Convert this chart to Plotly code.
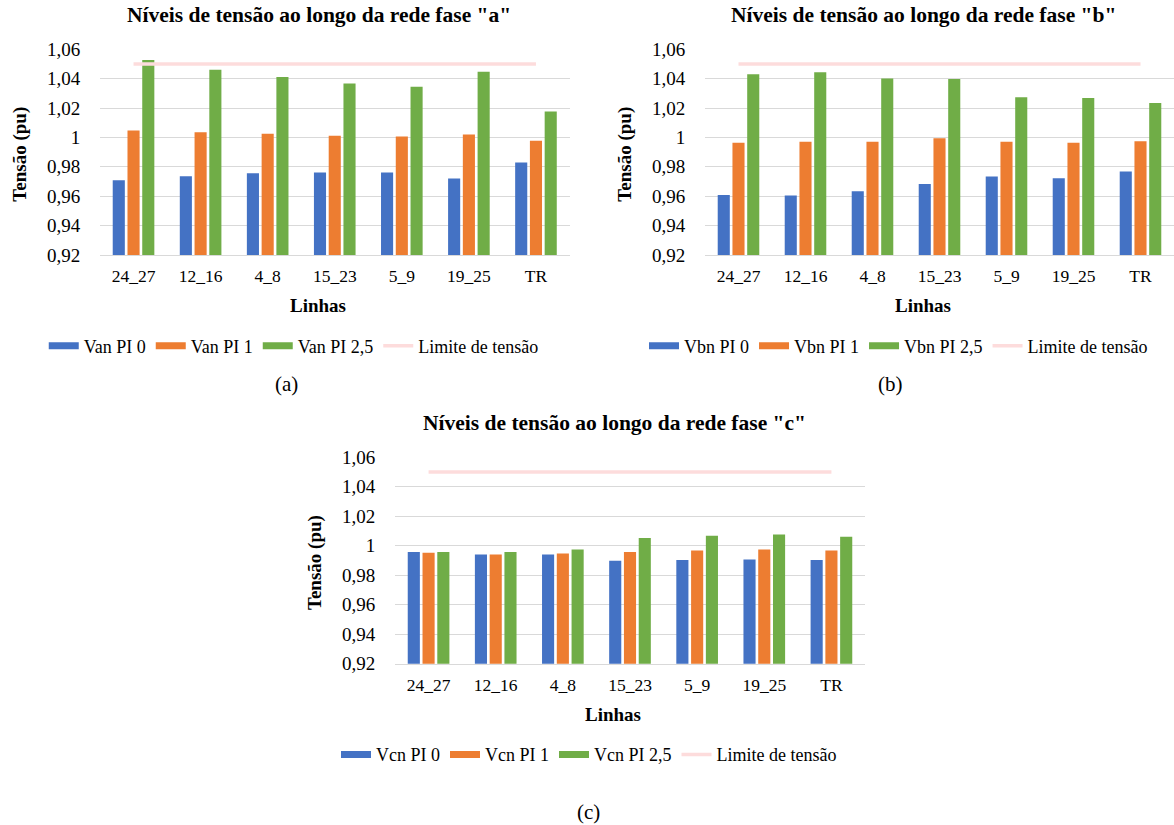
import plotly.graph_objects as go

# ---------------- data ----------------
categorias = ["24_27", "12_16", "4_8", "15_23", "5_9", "19_25", "TR"]

van_pi0 = [0.9709, 0.9736, 0.9757, 0.9761, 0.9761, 0.9720, 0.9830]
van_pi1 = [1.0048, 1.0036, 1.0025, 1.0011, 1.0007, 1.0020, 0.9977]
van_pi25 = [1.0527, 1.0461, 1.0411, 1.0368, 1.0345, 1.0448, 1.0177]

vbn_pi0 = [0.9609, 0.9605, 0.9634, 0.9684, 0.9734, 0.9723, 0.9768]
vbn_pi1 = [0.9964, 0.9970, 0.9970, 0.9995, 0.9970, 0.9964, 0.9975]
vbn_pi25 = [1.0430, 1.0443, 1.0402, 1.0398, 1.0273, 1.0268, 1.0234]

vcn_pi0 = [0.9957, 0.9941, 0.9941, 0.9898, 0.9903, 0.9907, 0.9903]
vcn_pi1 = [0.9952, 0.9941, 0.9948, 0.9957, 0.9968, 0.9975, 0.9968]
vcn_pi25 = [0.9957, 0.9957, 0.9975, 1.0052, 1.0068, 1.0077, 1.0061]

limite = [1.05, 1.05, 1.05, 1.05, 1.05, 1.05, 1.05]

y_tickvals = [0.92, 0.94, 0.96, 0.98, 1.00, 1.02, 1.04, 1.06]
y_ticktext = ["0,92", "0,94", "0,96", "0,98", "1", "1,02", "1,04", "1,06"]

paineis = [
    {"fase": "a", "prefixo": "Van", "series": [van_pi0, van_pi1, van_pi25], "letra": "(a)"},
    {"fase": "b", "prefixo": "Vbn", "series": [vbn_pi0, vbn_pi1, vbn_pi25], "letra": "(b)"},
    {"fase": "c", "prefixo": "Vcn", "series": [vcn_pi0, vcn_pi1, vcn_pi25], "letra": "(c)"},
]
sufixos = ["PI 0", "PI 1", "PI 2,5"]
cores = ["#4472C4", "#ED7D31", "#70AD47"]
cor_limite = "#FDDCDC"

# ---------------- layout geometry (pixels) ----------------
W, H = 1174, 825
FONT = "Liberation Serif, Times New Roman, serif"
# plot areas: (left, right, top, bottom)
areas = [
    (100, 569.5, 49.3, 255),
    (705, 1174, 49.3, 255),
    (395, 865, 457.3, 663.7),
]
letra_y = [384, 384, 811.5]
letra_dx = [-48, -49, -41.5]


def px(x):
    return x / W


def py(y):
    return 1 - y / H


fig = go.Figure()
annotations = []
layout_extra = {}

for i, (p, (l, r, t, b)) in enumerate(zip(paineis, areas)):
    n = "" if i == 0 else str(i + 1)
    xa, ya = "x" + n, "y" + n
    leg = "legend" + n
    for s, (vals, suf, cor) in enumerate(zip(p["series"], sufixos, cores)):
        nome = f'{p["prefixo"]} {suf}'
        fig.add_trace(go.Bar(
            x=categorias, y=vals, name=nome, marker=dict(color=cor, line=dict(width=0)),
            xaxis=xa, yaxis=ya, showlegend=False, legendgroup=f"{i}-{s}",
        ))
        # legend proxy with a wide swatch like the original
        fig.add_trace(go.Scatter(
            x=[None], y=[None], mode="lines", name=nome,
            line=dict(color=cor, width=7), xaxis=xa, yaxis=ya,
            legend=leg, legendgroup=f"{i}-{s}", hoverinfo="skip",
        ))
    fig.add_trace(go.Scatter(
        x=categorias, y=limite, mode="lines", name="Limite de tensão",
        line=dict(color=cor_limite, width=3.5), xaxis=xa, yaxis=ya, legend=leg,
    ))

    cx = (l + r) / 2
    layout_extra["xaxis" + n] = dict(
        domain=[px(l), px(r)], anchor=ya, type="category",
        showgrid=False, zeroline=False, showline=True, linecolor="#D9D9D9", linewidth=1,
        ticks="outside", ticklen=5, tickcolor="rgba(0,0,0,0)",
        tickfont=dict(family=FONT, size=17.5, color="#000"),
        fixedrange=True, automargin=False,
    )
    layout_extra["yaxis" + n] = dict(
        domain=[py(b), py(t)], anchor=xa, range=[0.92, 1.06],
        tickvals=y_tickvals, ticktext=y_ticktext,
        showgrid=True, gridcolor="#D9D9D9", gridwidth=1, zeroline=False, showline=False,
        ticks="outside", ticklen=15, tickcolor="rgba(0,0,0,0)",
        tickfont=dict(family=FONT, size=19, color="#000"),
        fixedrange=True, automargin=False,
    )
    layout_extra[leg] = dict(
        orientation="h", x=px(cx - 41), y=py(b + 91), xanchor="center", yanchor="middle",
        font=dict(family=FONT, size=18, color="#000"), bgcolor="rgba(0,0,0,0)",
        itemwidth=30, tracegroupgap=0,
    )
    # chart title
    annotations.append(dict(
        text=f'<b>Níveis de tensão ao longo da rede fase "{p["fase"]}"</b>',
        x=px(cx - 16), y=py(t - 34), xref="paper", yref="paper",
        xanchor="center", yanchor="middle", showarrow=False,
        font=dict(family=FONT, size=21.5, color="#000"),
    ))
    # y axis title
    annotations.append(dict(
        text="<b>Tensão (pu)</b>", textangle=-90,
        x=px(l - 80), y=py((t + b) / 2 + 2.5), xref="paper", yref="paper",
        xanchor="center", yanchor="middle", showarrow=False,
        font=dict(family=FONT, size=19, color="#000"),
    ))
    # x axis title
    annotations.append(dict(
        text="<b>Linhas</b>",
        x=px(cx - 17), y=py(b + 51), xref="paper", yref="paper",
        xanchor="center", yanchor="middle", showarrow=False,
        font=dict(family=FONT, size=19, color="#000"),
    ))
    # panel letter
    annotations.append(dict(
        text=p["letra"],
        x=px(cx + letra_dx[i]), y=py(letra_y[i]), xref="paper", yref="paper",
        xanchor="center", yanchor="middle", showarrow=False,
        font=dict(family=FONT, size=21, color="#000"),
    ))

fig.update_layout(
    width=W, height=H, margin=dict(l=0, r=0, t=0, b=0, pad=0, autoexpand=False),
    paper_bgcolor="white", plot_bgcolor="white",
    bargap=0.34, bargroupgap=0.18, barmode="group",
    annotations=annotations,
    font=dict(family=FONT, color="#000"),
    **layout_extra,
)

fig.write_html(
    "out.html",
    config={"displayModeBar": False},
    post_script="document.body.style.margin='0px';",
)
